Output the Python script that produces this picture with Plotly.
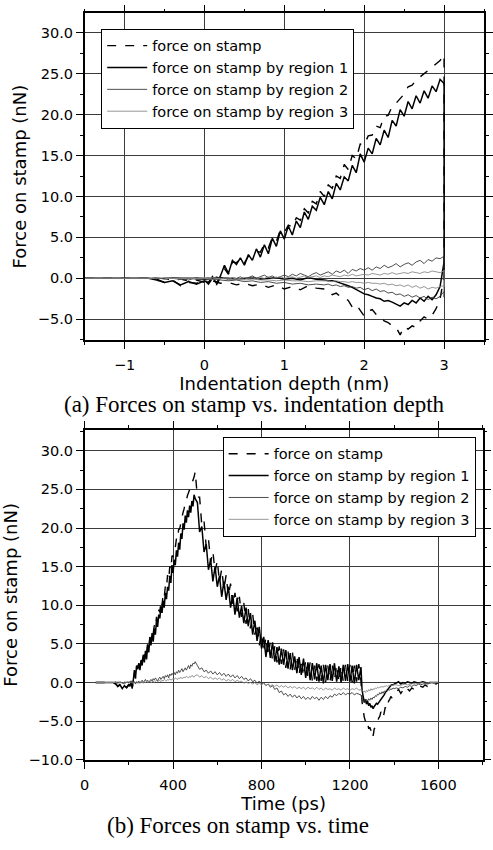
import plotly.graph_objects as go

# ---------------- data ----------------
time_ps = (list(range(50, 201, 10)) + list(range(205, 501, 5)) + list(range(510, 1251, 10))
           + list(range(1255, 1401, 5)) + list(range(1410, 1601, 10)))

depth_nm = ([-1.5, -1.4, -1.3, -1.2, -1.1, -1.0, -0.9, -0.8, -0.7, -0.6, -0.5, -0.4, -0.3, -0.2, -0.1, 0.0]
            + [0.05, 0.10, 0.15, 0.20, 0.25, 0.30, 0.35, 0.40, 0.45, 0.50,
               0.55, 0.60, 0.65, 0.70, 0.75, 0.80, 0.85, 0.90, 0.95, 1.00,
               1.05, 1.10, 1.15, 1.20, 1.25, 1.30, 1.35, 1.40, 1.45, 1.50,
               1.55, 1.60, 1.65, 1.70, 1.75, 1.80, 1.85, 1.90, 1.95, 2.00,
               2.05, 2.10, 2.15, 2.20, 2.25, 2.30, 2.35, 2.40, 2.45, 2.50,
               2.55, 2.60, 2.65, 2.70, 2.75, 2.80, 2.85, 2.90, 2.95, 3.00]
            + [3.0] * 75
            + [2.95, 2.90, 2.85, 2.80, 2.75, 2.70, 2.65, 2.60, 2.55, 2.50,
               2.45, 2.40, 2.35, 2.30, 2.25, 2.20, 2.15, 2.10, 2.05, 2.00,
               1.95, 1.90, 1.85, 1.80, 1.75, 1.70, 1.65, 1.60, 1.55, 1.50]
            + [1.4, 1.3, 1.2, 1.1, 1.0, 0.9, 0.8, 0.7, 0.6, 0.5,
               0.4, 0.3, 0.2, 0.1, 0.0, -0.1, -0.2, -0.3, -0.4, -0.5])

force_total = [
    0, 0, 0, 0, 0, 0, 0, 0, 0, -0.1, -0.5, -0.2, -0.9, -0.5, -0.6, -0.2,
    -0.7, 0.0, -0.8, 0.1, 1.2, 0.5, 2.0, 1.9, 2.4, 1.9, 2.7, 2.9, 3.3, 3.2, 4.2, 3.7, 5.0, 4.5, 5.9, 5.6,
    6.5, 6.3, 7.4, 7.1, 8.5, 8.0, 9.4, 9.1, 10.6, 10.0, 11.4, 11.0, 12.5, 12.2, 13.9, 13.3, 15.0, 14.6, 16.4, 16.3,
    17.4, 17.5, 18.6, 18.4, 19.8, 19.9, 21.0, 21.4, 22.0, 22.5, 23.4, 23.6, 24.2, 24.6, 25.0, 25.4, 25.8, 26.2, 26.6, 27.3,
    24.0, 24.0, 20.3, 20.9, 17.5, 18.6, 15.6, 17.0, 14.3, 15.8, 13.0, 14.7, 12.1, 13.9, 11.2, 12.8, 10.0, 11.6, 9.2, 11.1,
    8.5, 10.3, 7.6, 9.5, 7.0, 8.9, 6.2, 7.7, 4.8, 6.4, 3.9, 5.9, 3.4, 5.3, 2.8, 4.7, 2.6, 4.7, 2.4, 4.3,
    1.9, 4.0, 1.7, 3.9, 1.6, 3.5, 1.0, 3.0, 0.8, 2.9, 0.6, 2.6, 0.2, 2.2, 0.2, 2.4, 0.2, 2.3, 0.0, 2.2,
    0.1, 2.4, 0.3, 2.3, 0.0, 2.2, 0.1, 2.4, 0.2, 2.3, 0.0, 2.2, 0.1, 2.4, 0.2,
    -2.5, -3.7, -4.5, -5.0, -4.7, -5.2, -6.0, -5.8, -6.2, -5.9, -6.9, -6.0, -5.8, -5.4, -5.2, -4.6, -4.4, -3.8, -4.0, -4.6,
    -3.9, -3.2, -3.5, -2.7, -2.4, -2.2, -1.8, -2.0, -1.5, -1.3,
    -1.2, -0.9, -1.4, -1.0, -1.3, -0.8, -1.1, -0.7, -0.9, -0.6, -0.8, -0.5, -0.6, -0.3, -0.5, -0.2, -0.3, -0.1, -0.2, 0.0]

force_region1 = [
    0, 0, 0, 0, 0, 0, 0, 0, 0, -0.2, -0.5, -0.3, -0.8, -0.4, -0.7, -0.3,
    -0.5, 0.2, -0.6, 0.3, 1.6, 0.6, 2.2, 1.7, 2.5, 1.6, 2.9, 2.2, 3.6, 2.6, 4.1, 3.0, 4.9, 3.9, 5.8, 4.8,
    6.4, 5.3, 7.0, 6.2, 8.1, 7.2, 8.8, 8.3, 9.9, 9.0, 10.6, 9.7, 11.6, 10.8, 12.4, 11.9, 13.8, 12.9, 15.2, 14.2,
    15.9, 15.2, 17.1, 16.3, 18.1, 17.2, 19.3, 18.6, 20.6, 19.8, 21.6, 20.7, 22.3, 21.4, 22.9, 22.0, 23.5, 22.8, 24.3, 23.8,
    23.3, 19.5, 20.2, 16.9, 17.9, 14.6, 15.9, 13.1, 15.0, 12.4, 13.8, 11.1, 13.1, 10.7, 12.4, 9.7, 11.3, 8.8, 11.0, 8.4,
    9.9, 7.7, 9.7, 7.3, 9.0, 6.2, 8.0, 5.4, 7.2, 4.4, 5.9, 3.3, 5.5, 3.2, 5.2, 2.7, 4.6, 2.3, 4.4, 2.3,
    4.2, 1.8, 3.8, 1.6, 3.4, 1.2, 3.3, 1.0, 3.1, 0.6, 2.6, 0.3, 2.5, 0.4, 2.5, 0.1, 2.2, -0.1, 2.3, 0.3,
    2.4, 0.2, 2.5, 0.1, 2.1, 0.0, 2.3, 0.2, 2.4, 0.1, 2.2, -0.1, 2.3, 0.3, 2.0,
    -1.0, -2.0, -2.6, -2.2, -2.8, -2.4, -3.0, -2.7, -3.2, -3.0, -3.4, -3.1, -2.9, -2.7, -2.8, -2.5, -2.4, -2.2, -2.0, -1.9,
    -1.6, -1.3, -1.1, -0.9, -0.7, -0.6, -0.4, -0.3, -0.3, -0.2,
    -0.1, 0.1, -0.2, 0.0, -0.1, 0.1, 0.0, -0.1, 0.1, 0.0, -0.1, 0.0, 0.1, 0.0, -0.1, 0.0, 0.0, 0.0, 0.0, 0.0]

force_region2 = [
    0, 0, 0, 0, 0, 0, 0, 0, 0, 0.1, -0.1, 0.1, 0.0, -0.2, 0.1, 0.0,
    0.1, -0.1, 0.2, 0.0, 0.1, -0.2, 0.1, 0.0, 0.2, -0.1, 0.1, 0.3, 0.0, 0.2, 0.4, 0.1, 0.3, 0.0, 0.2, 0.4,
    0.2, 0.5, 0.3, 0.6, 0.4, 0.2, 0.5, 0.7, 0.4, 0.6, 0.8, 0.5, 0.9, 0.7, 1.0, 0.6, 1.1, 0.9, 1.2, 1.0,
    1.3, 1.0, 1.4, 1.2, 1.6, 1.3, 1.5, 1.8, 1.4, 1.7, 1.9, 1.6, 2.0, 2.2, 1.8, 2.3, 2.1, 2.5, 2.4, 2.7,
    2.2, 1.7, 1.9, 1.4, 1.6, 1.2, 1.5, 1.1, 1.4, 1.0, 1.3, 0.9, 1.2, 0.8, 1.1, 0.7, 1.0, 0.6, 0.9, 0.5,
    0.8, 0.4, 0.6, 0.2, 0.5, 0.1, 0.3, -0.1, 0.2, -0.2, 0.0, -0.4, -0.2, -0.6, -0.4, -0.9, -0.7, -1.3, -1.1, -1.6,
    -1.4, -1.8, -1.5, -1.9, -1.6, -2.0, -1.7, -2.1, -1.8, -2.2, -1.9, -2.2, -1.8, -2.1, -1.9, -2.3, -1.9, -2.2, -1.8, -2.1,
    -1.7, -1.9, -1.5, -1.7, -1.4, -1.6, -1.3, -1.6, -1.4, -1.5, -1.3, -1.6, -1.4, -1.5, -1.6,
    -2.2, -2.5, -2.3, -2.6, -2.2, -2.4, -2.1, -2.3, -2.0, -2.2, -1.9, -2.0, -1.7, -1.8, -1.5, -1.6, -1.3, -1.5, -1.2, -1.4,
    -1.1, -1.2, -1.0, -1.1, -0.9, -1.0, -0.8, -0.9, -0.7, -0.8,
    -0.7, -0.8, -0.6, -0.7, -0.5, -0.6, -0.4, -0.5, -0.3, -0.4, -0.2, -0.3, -0.2, -0.1, -0.2, -0.1, 0.0, -0.1, 0.0, 0.0]

force_region3 = [
    0, 0, 0, 0, 0, 0, 0, 0, 0, 0.0, 0.1, 0.0, -0.1, 0.1, 0.0, 0.1,
    0.0, 0.1, 0.0, -0.1, 0.1, 0.0, 0.1, -0.1, 0.0, 0.1, 0.0, 0.1, -0.1, 0.1, 0.0, 0.2, 0.0, 0.1, 0.2, 0.0,
    0.1, 0.2, 0.0, 0.2, 0.3, 0.1, 0.2, 0.3, 0.1, 0.3, 0.2, 0.4, 0.3, 0.2, 0.4, 0.3, 0.5, 0.3, 0.4, 0.5,
    0.4, 0.6, 0.5, 0.4, 0.6, 0.5, 0.7, 0.5, 0.6, 0.7, 0.6, 0.8, 0.7, 0.6, 0.8, 0.7, 0.9, 0.8, 0.7, 0.9,
    1.0, 0.7, 0.9, 0.6, 0.8, 0.5, 0.7, 0.4, 0.6, 0.4, 0.6, 0.3, 0.5, 0.2, 0.4, 0.2, 0.4, 0.1, 0.3, 0.1,
    0.2, -0.1, 0.1, -0.1, 0.0, -0.2, 0.0, -0.3, -0.1, -0.3, -0.1, -0.4, -0.2, -0.4, -0.3, -0.5, -0.3, -0.6, -0.4, -0.6,
    -0.4, -0.7, -0.5, -0.7, -0.5, -0.8, -0.6, -0.8, -0.6, -0.9, -0.6, -0.8, -0.7, -0.9, -0.6, -0.9, -0.7, -1.0, -0.7, -0.9,
    -0.8, -1.0, -0.7, -0.9, -0.8, -1.0, -0.7, -0.9, -0.8, -1.0, -0.8, -0.9, -0.7, -1.0, -0.9,
    -1.0, -1.2, -1.1, -1.3, -1.0, -1.2, -0.9, -1.1, -0.8, -1.0, -0.8, -0.9, -0.7, -0.8, -0.6, -0.7, -0.6, -0.6, -0.5, -0.6,
    -0.5, -0.5, -0.4, -0.5, -0.4, -0.4, -0.3, -0.4, -0.3, -0.3,
    -0.3, -0.4, -0.3, -0.3, -0.2, -0.3, -0.2, -0.2, -0.1, -0.2, -0.1, -0.1, 0.0, -0.1, 0.0, 0.0, 0.0, 0.0, 0.0, 0.0]

series_names = ["force on stamp", "force on stamp by region 1",
                "force on stamp by region 2", "force on stamp by region 3"]

n = len(time_ps)
for arr in (depth_nm, force_total, force_region1, force_region2, force_region3):
    assert len(arr) == n, (len(arr), n)

# ---------------- styling ----------------
W, H = 493, 850
SANS = "DejaVu Sans, Liberation Sans, Arial, sans-serif"
SERIF = "Liberation Serif, Times New Roman, serif"
styles = [dict(color="black", width=1.4, dash="dash"),
          dict(color="black", width=1.5),
          dict(color="#3a3a3a", width=0.9),
          dict(color="#8a8a8a", width=0.9)]
series = [force_total, force_region1, force_region2, force_region3]

fig = go.Figure()
for name, ys, st in zip(series_names, series, styles):
    fig.add_trace(go.Scatter(x=depth_nm, y=ys, mode="lines", name=name, line=st,
                             xaxis="x", yaxis="y", legend="legend"))
for name, ys, st in zip(series_names, series, styles):
    fig.add_trace(go.Scatter(x=time_ps, y=ys, mode="lines", name=name, line=st,
                             xaxis="x2", yaxis="y2", legend="legend2"))

def py(px):
    return 1 - px / H

axis_common = dict(showline=True, linecolor="black", linewidth=1.5, mirror="allticks",
                   ticks="outside", ticklen=7, tickwidth=1, tickcolor="black",
                   showgrid=True, gridcolor="#3c3c3c", gridwidth=0.8, zeroline=False,
                   tickfont=dict(family=SANS, size=14.5, color="black"))
minor_common = dict(ticks="outside", ticklen=3, tickcolor="black", showgrid=False)

fig.update_layout(
    width=W, height=H, margin=dict(l=0, r=0, t=0, b=0),
    paper_bgcolor="white", plot_bgcolor="white",
    font=dict(family=SANS, color="black", size=14.5),
    xaxis=dict(domain=[82 / W, 1.0], range=[-1.5, 3.5], anchor="y", dtick=1, tick0=0,
               minor=dict(dtick=0.5, tick0=0, **minor_common), ticklabelstandoff=4,
               title=dict(text="Indentation depth (nm)", font=dict(family=SANS, size=18), standoff=4),
               **axis_common),
    yaxis=dict(domain=[py(343), py(13.5)], range=[-7.5, 32.36], anchor="x", dtick=5, tick0=0,
               tickformat=".1f", minor=dict(dtick=2.5, tick0=0, **minor_common),
               title=dict(text="Force on stamp (nN)", font=dict(family=SANS, size=18), standoff=6),
               **axis_common),
    xaxis2=dict(domain=[82 / W, 491.5 / W], range=[0, 1800], anchor="y2", dtick=400, tick0=0,
                minor=dict(dtick=200, tick0=0, **minor_common), ticklabelstandoff=4,
                title=dict(text="Time (ps)", font=dict(family=SANS, size=18), standoff=5),
                **axis_common),
    yaxis2=dict(domain=[py(767), py(434)], range=[-10, 32.7], anchor="x2", dtick=5, tick0=0,
                tickformat=".1f", minor=dict(dtick=2.5, tick0=0, **minor_common),
                title=dict(text="Force on stamp (nN)", font=dict(family=SANS, size=18), standoff=6),
                **axis_common),
    legend=dict(x=99 / W, y=py(29), xanchor="left", yanchor="top", bgcolor="white",
                bordercolor="black", borderwidth=1, font=dict(family=SANS, size=14.5),
                tracegroupgap=0, itemwidth=40),
    legend2=dict(x=224 / W, y=py(441), xanchor="left", yanchor="top", bgcolor="white",
                 bordercolor="black", borderwidth=1, font=dict(family=SANS, size=14.5),
                 tracegroupgap=0, itemwidth=40),
    annotations=[
        dict(text="(a) Forces on stamp vs. indentation depth", x=257 / W, y=py(408),
             xref="paper", yref="paper", showarrow=False, xanchor="center", yanchor="middle",
             font=dict(family=SERIF, size=23, color="black")),
        dict(text="(b) Forces on stamp vs. time", x=240 / W, y=py(833),
             xref="paper", yref="paper", showarrow=False, xanchor="center", yanchor="middle",
             font=dict(family=SERIF, size=23, color="black")),
    ],
)

fig.write_html("out.html")
